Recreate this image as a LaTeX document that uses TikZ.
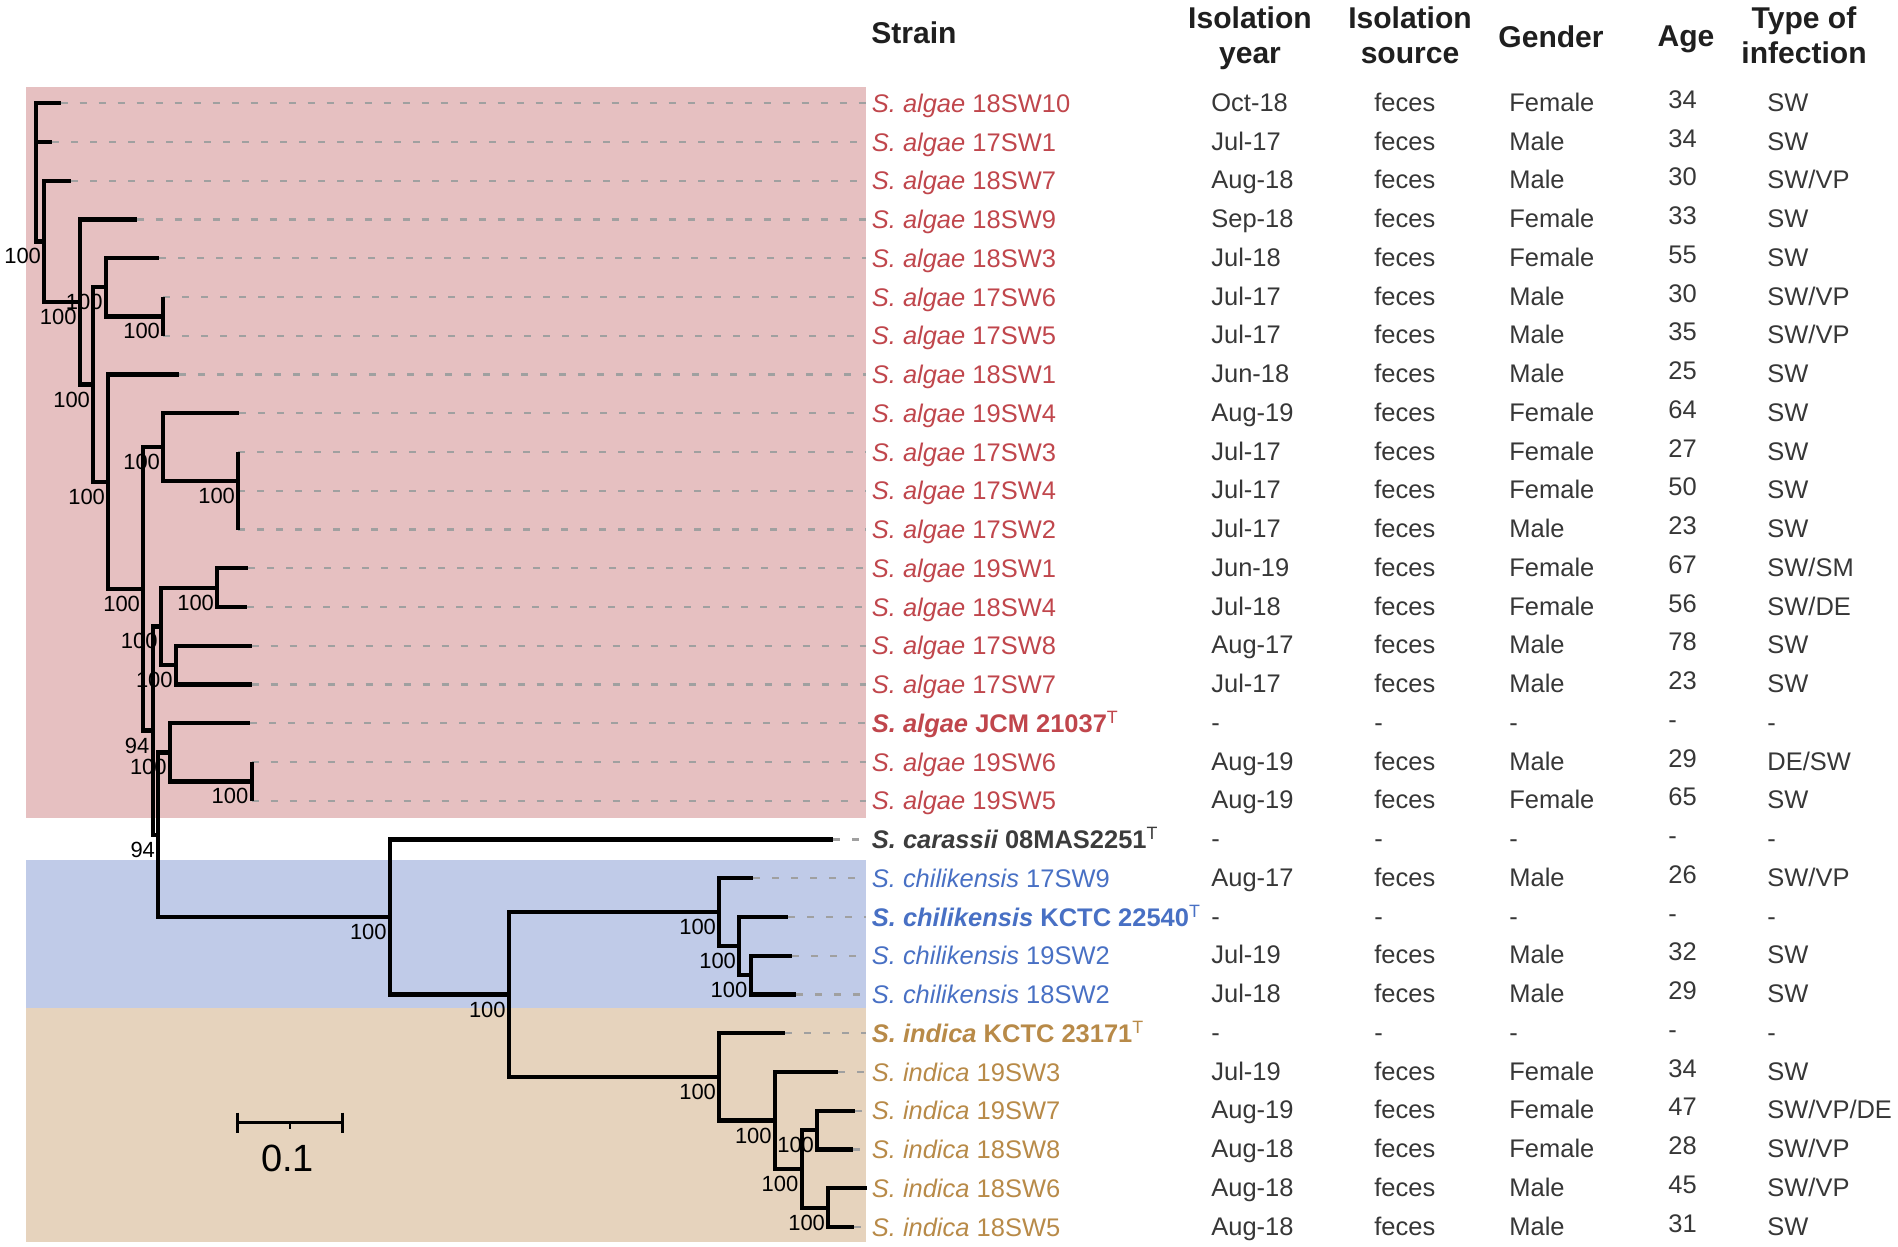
\documentclass[tikz,border=0pt]{standalone}
\usepackage{fontspec}
\setmainfont{Liberation Sans}
\definecolor{algaebg}{RGB}{230,192,193}
\definecolor{chilibg}{RGB}{192,203,232}
\definecolor{indicabg}{RGB}{230,211,189}
\definecolor{algaered}{RGB}{192,70,76}
\definecolor{chiliblue}{RGB}{72,112,196}
\definecolor{indicatan}{RGB}{184,138,72}
\definecolor{carassgray}{RGB}{60,60,60}
\definecolor{cellgray}{RGB}{55,55,55}
\definecolor{guidegray}{RGB}{160,160,160}
\begin{document}
\begin{tikzpicture}[x=0.2mm, y=-0.2mm,
  branch/.style={line width=0.85mm, line join=miter},
  guide/.style={draw=guidegray, line width=0.45mm, dash pattern=on 1.4mm off 2.4mm},
  boot/.style={font=\fontsize{12.5}{12.5}\selectfont, anchor=east, inner sep=0pt},
  strain/.style={font=\fontsize{14.5}{17}\selectfont, anchor=west, inner ysep=0pt, inner xsep=1.1mm, text height=3.65mm, text depth=0pt},
  salg/.style={strain, text=algaered},
  scar/.style={strain, text=carassgray},
  schi/.style={strain, text=chiliblue},
  sind/.style={strain, text=indicatan},
  cell/.style={font=\fontsize{14.5}{17}\selectfont, text=cellgray, anchor=west, inner sep=0pt, text height=3.65mm, text depth=0pt},
  agecell/.style={cell, yshift=0.6mm},
  head/.style={font=\fontsize{17.1}{20.2}\selectfont\bfseries, text=black!88, inner sep=0pt, align=center, anchor=north},
  scalebar/.style={line width=0.6mm},
]
\useasboundingbox (0,0) rectangle (1898,1246);
% clade backgrounds
\fill[algaebg] (26,86.7) rectangle (866,817.7);
\fill[chilibg] (26,859.5) rectangle (866,1007.7);
\fill[indicabg] (26,1007.7) rectangle (866,1242);
% tree nodes
\coordinate (nd0) at (35.7,172);
\coordinate (leaf0) at (60.7,103.3);
\coordinate (leaf1) at (52.3,142.05);
\coordinate (nd1) at (44.3,241.4);
\coordinate (leaf2) at (71,180.8);
\coordinate (nd2) at (80,302);
\coordinate (leaf3) at (136.7,219.55);
\coordinate (nd3) at (93.3,384.5);
\coordinate (nd4) at (106,287.35);
\coordinate (leaf4) at (159.3,258.3);
\coordinate (nd5) at (163.3,316.4);
\coordinate (leaf5) at (163.3,297.05);
\coordinate (leaf6) at (163.3,335.8);
\coordinate (nd6) at (108.3,481.7);
\coordinate (leaf7) at (179.3,374.55);
\coordinate (nd7) at (143.3,588.9);
\coordinate (nd8) at (163.3,447.2);
\coordinate (leaf8) at (239.3,413.3);
\coordinate (nd9) at (238.3,481.1);
\coordinate (leaf9) at (238.3,452.05);
\coordinate (nd10) at (238.3,510.2);
\coordinate (leaf10) at (238.3,490.8);
\coordinate (leaf11) at (238.3,529.55);
\coordinate (nd11) at (152.7,730.6);
\coordinate (nd12) at (161,626.4);
\coordinate (nd13) at (217.3,587.7);
\coordinate (leaf12) at (248.3,568.3);
\coordinate (leaf13) at (247.3,607.05);
\coordinate (nd14) at (176,665.2);
\coordinate (leaf14) at (251.7,645.8);
\coordinate (leaf15) at (251.7,684.55);
\coordinate (nd15) at (158.3,834.8);
\coordinate (nd16) at (170,752.4);
\coordinate (leaf16) at (250,723.3);
\coordinate (nd17) at (251.7,781.4);
\coordinate (leaf17) at (251.7,762.05);
\coordinate (leaf18) at (251.7,800.8);
\coordinate (nd18) at (390,917.1);
\coordinate (leaf19) at (833,839.55);
\coordinate (nd19) at (509,994.6);
\coordinate (nd20) at (719.3,912.2);
\coordinate (leaf20) at (753.3,878.3);
\coordinate (nd21) at (739.3,946.1);
\coordinate (leaf21) at (788.3,917.05);
\coordinate (nd22) at (750.7,975.2);
\coordinate (leaf22) at (792.3,955.8);
\coordinate (leaf23) at (796,994.55);
\coordinate (nd23) at (719.3,1076.9);
\coordinate (leaf24) at (785,1033.3);
\coordinate (nd24) at (775,1120.5);
\coordinate (leaf25) at (838.3,1072.05);
\coordinate (nd25) at (801.7,1168.9);
\coordinate (nd26) at (817.3,1130.2);
\coordinate (leaf26) at (855,1110.8);
\coordinate (leaf27) at (852.7,1149.55);
\coordinate (nd27) at (828.3,1207.7);
\coordinate (leaf28) at (867.3,1188.3);
\coordinate (leaf29) at (854,1227.05);
% strain labels
\node[salg] (lab0) at (866,103.3) {{\itshape S. algae} 18SW10};
\node[salg] (lab1) at (866,142.05) {{\itshape S. algae} 17SW1};
\node[salg] (lab2) at (866,180.8) {{\itshape S. algae} 18SW7};
\node[salg] (lab3) at (866,219.55) {{\itshape S. algae} 18SW9};
\node[salg] (lab4) at (866,258.3) {{\itshape S. algae} 18SW3};
\node[salg] (lab5) at (866,297.05) {{\itshape S. algae} 17SW6};
\node[salg] (lab6) at (866,335.8) {{\itshape S. algae} 17SW5};
\node[salg] (lab7) at (866,374.55) {{\itshape S. algae} 18SW1};
\node[salg] (lab8) at (866,413.3) {{\itshape S. algae} 19SW4};
\node[salg] (lab9) at (866,452.05) {{\itshape S. algae} 17SW3};
\node[salg] (lab10) at (866,490.8) {{\itshape S. algae} 17SW4};
\node[salg] (lab11) at (866,529.55) {{\itshape S. algae} 17SW2};
\node[salg] (lab12) at (866,568.3) {{\itshape S. algae} 19SW1};
\node[salg] (lab13) at (866,607.05) {{\itshape S. algae} 18SW4};
\node[salg] (lab14) at (866,645.8) {{\itshape S. algae} 17SW8};
\node[salg] (lab15) at (866,684.55) {{\itshape S. algae} 17SW7};
\node[salg] (lab16) at (866,723.3) {{\bfseries\itshape S. algae} {\bfseries JCM 21037}\textsuperscript{T}};
\node[salg] (lab17) at (866,762.05) {{\itshape S. algae} 19SW6};
\node[salg] (lab18) at (866,800.8) {{\itshape S. algae} 19SW5};
\node[scar] (lab19) at (866,839.55) {{\bfseries\itshape S. carassii} {\bfseries 08MAS2251}\textsuperscript{T}};
\node[schi] (lab20) at (866,878.3) {{\itshape S. chilikensis} 17SW9};
\node[schi] (lab21) at (866,917.05) {{\bfseries\itshape S. chilikensis} {\bfseries KCTC 22540}\textsuperscript{T}};
\node[schi] (lab22) at (866,955.8) {{\itshape S. chilikensis} 19SW2};
\node[schi] (lab23) at (866,994.55) {{\itshape S. chilikensis} 18SW2};
\node[sind] (lab24) at (866,1033.3) {{\bfseries\itshape S. indica} {\bfseries KCTC 23171}\textsuperscript{T}};
\node[sind] (lab25) at (866,1072.05) {{\itshape S. indica} 19SW3};
\node[sind] (lab26) at (866,1110.8) {{\itshape S. indica} 19SW7};
\node[sind] (lab27) at (866,1149.55) {{\itshape S. indica} 18SW8};
\node[sind] (lab28) at (866,1188.3) {{\itshape S. indica} 18SW6};
\node[sind] (lab29) at (866,1227.05) {{\itshape S. indica} 18SW5};
% tip guides
\draw[guide] (leaf0) -- (lab0);
\draw[guide] (leaf1) -- (lab1);
\draw[guide] (leaf2) -- (lab2);
\draw[guide] (leaf3) -- (lab3);
\draw[guide] (leaf4) -- (lab4);
\draw[guide] (leaf5) -- (lab5);
\draw[guide] (leaf6) -- (lab6);
\draw[guide] (leaf7) -- (lab7);
\draw[guide] (leaf8) -- (lab8);
\draw[guide] (leaf9) -- (lab9);
\draw[guide] (leaf10) -- (lab10);
\draw[guide] (leaf11) -- (lab11);
\draw[guide] (leaf12) -- (lab12);
\draw[guide] (leaf13) -- (lab13);
\draw[guide] (leaf14) -- (lab14);
\draw[guide] (leaf15) -- (lab15);
\draw[guide] (leaf16) -- (lab16);
\draw[guide] (leaf17) -- (lab17);
\draw[guide] (leaf18) -- (lab18);
\draw[guide] (leaf19) -- (lab19);
\draw[guide] (leaf20) -- (lab20);
\draw[guide] (leaf21) -- (lab21);
\draw[guide] (leaf22) -- (lab22);
\draw[guide] (leaf23) -- (lab23);
\draw[guide] (leaf24) -- (lab24);
\draw[guide] (leaf25) -- (lab25);
\draw[guide] (leaf26) -- (lab26);
\draw[guide] (leaf27) -- (lab27);
\draw[guide] (leaf29) -- (lab29);
% branches
\draw[branch] (nd0) |- (leaf0);
\draw[branch] (nd0) |- (leaf1);
\draw[branch] (nd0) |- (nd1);
\draw[branch] (nd1) |- (leaf2);
\draw[branch] (nd1) |- (nd2);
\draw[branch] (nd2) |- (leaf3);
\draw[branch] (nd2) |- (nd3);
\draw[branch] (nd3) |- (nd4);
\draw[branch] (nd3) |- (nd6);
\draw[branch] (nd4) |- (leaf4);
\draw[branch] (nd4) |- (nd5);
\draw[branch] (nd5) |- (leaf5);
\draw[branch] (nd5) |- (leaf6);
\draw[branch] (nd6) |- (leaf7);
\draw[branch] (nd6) |- (nd7);
\draw[branch] (nd7) |- (nd8);
\draw[branch] (nd7) |- (nd11);
\draw[branch] (nd8) |- (leaf8);
\draw[branch] (nd8) |- (nd9);
\draw[branch] (nd9) |- (leaf9);
\draw[branch] (nd9) |- (nd10);
\draw[branch] (nd10) |- (leaf10);
\draw[branch] (nd10) |- (leaf11);
\draw[branch] (nd11) |- (nd12);
\draw[branch] (nd11) |- (nd15);
\draw[branch] (nd12) |- (nd13);
\draw[branch] (nd12) |- (nd14);
\draw[branch] (nd13) |- (leaf12);
\draw[branch] (nd13) |- (leaf13);
\draw[branch] (nd14) |- (leaf14);
\draw[branch] (nd14) |- (leaf15);
\draw[branch] (nd15) |- (nd16);
\draw[branch] (nd15) |- (nd18);
\draw[branch] (nd16) |- (leaf16);
\draw[branch] (nd16) |- (nd17);
\draw[branch] (nd17) |- (leaf17);
\draw[branch] (nd17) |- (leaf18);
\draw[branch] (nd18) |- (leaf19);
\draw[branch] (nd18) |- (nd19);
\draw[branch] (nd19) |- (nd20);
\draw[branch] (nd19) |- (nd23);
\draw[branch] (nd20) |- (leaf20);
\draw[branch] (nd20) |- (nd21);
\draw[branch] (nd21) |- (leaf21);
\draw[branch] (nd21) |- (nd22);
\draw[branch] (nd22) |- (leaf22);
\draw[branch] (nd22) |- (leaf23);
\draw[branch] (nd23) |- (leaf24);
\draw[branch] (nd23) |- (nd24);
\draw[branch] (nd24) |- (leaf25);
\draw[branch] (nd24) |- (nd25);
\draw[branch] (nd25) |- (nd26);
\draw[branch] (nd25) |- (nd27);
\draw[branch] (nd26) |- (leaf26);
\draw[branch] (nd26) |- (leaf27);
\draw[branch] (nd27) |- (leaf28);
\draw[branch] (nd27) |- (leaf29);
% bootstrap values
\node[boot] (bs1) at ([shift={(-3,15)}]nd1) {100};
\node[boot] (bs2) at ([shift={(-3,15)}]nd2) {100};
\node[boot] (bs3) at ([shift={(-3,15)}]nd3) {100};
\node[boot] (bs4) at ([shift={(-3,15)}]nd4) {100};
\node[boot] (bs5) at ([shift={(-3,15)}]nd5) {100};
\node[boot] (bs6) at ([shift={(-3,15)}]nd6) {100};
\node[boot] (bs7) at ([shift={(-3,15)}]nd7) {100};
\node[boot] (bs8) at ([shift={(-3,15)}]nd8) {100};
\node[boot] (bs9) at ([shift={(-3,15)}]nd9) {100};
\node[boot] (bs11) at ([shift={(-3,15)}]nd11) {94};
\node[boot] (bs12) at ([shift={(-3,15)}]nd12) {100};
\node[boot] (bs13) at ([shift={(-3,15)}]nd13) {100};
\node[boot] (bs14) at ([shift={(-3,15)}]nd14) {100};
\node[boot] (bs15) at ([shift={(-3,15)}]nd15) {94};
\node[boot] (bs16) at ([shift={(-3,15)}]nd16) {100};
\node[boot] (bs17) at ([shift={(-3,15)}]nd17) {100};
\node[boot] (bs18) at ([shift={(-3,15)}]nd18) {100};
\node[boot] (bs19) at ([shift={(-3,15)}]nd19) {100};
\node[boot] (bs20) at ([shift={(-3,15)}]nd20) {100};
\node[boot] (bs21) at ([shift={(-3,15)}]nd21) {100};
\node[boot] (bs22) at ([shift={(-3,15)}]nd22) {100};
\node[boot] (bs23) at ([shift={(-3,15)}]nd23) {100};
\node[boot] (bs24) at ([shift={(-3,15)}]nd24) {100};
\node[boot] (bs25) at ([shift={(-3,15)}]nd25) {100};
\node[boot] (bs26) at ([shift={(-3,15)}]nd26) {100};
\node[boot] (bs27) at ([shift={(-3,15)}]nd27) {100};
% header
\node[head, anchor=north west] (hstrain) at (871,21) {Strain};
\node[head] (hyear) at (1250,6) {Isolation\\year};
\node[head] (hsource) at (1410,6) {Isolation\\source};
\node[head] (hgender) at (1551,25) {Gender};
\node[head] (hage) at (1686,25) {Age};
\node[head] (htype) at (1804,6) {Type of\\infection};
% table
\node[cell] (yr0) at (1211,102.3) {Oct-18}; \node[cell] (src0) at (1374,102.3) {feces}; \node[cell] (gen0) at (1509,102.3) {Female}; \node[agecell] (age0) at (1668,102.3) {34}; \node[cell] (inf0) at (1767,102.3) {SW};
\node[cell] (yr1) at (1211,141.05) {Jul-17}; \node[cell] (src1) at (1374,141.05) {feces}; \node[cell] (gen1) at (1509,141.05) {Male}; \node[agecell] (age1) at (1668,141.05) {34}; \node[cell] (inf1) at (1767,141.05) {SW};
\node[cell] (yr2) at (1211,179.8) {Aug-18}; \node[cell] (src2) at (1374,179.8) {feces}; \node[cell] (gen2) at (1509,179.8) {Male}; \node[agecell] (age2) at (1668,179.8) {30}; \node[cell] (inf2) at (1767,179.8) {SW/VP};
\node[cell] (yr3) at (1211,218.55) {Sep-18}; \node[cell] (src3) at (1374,218.55) {feces}; \node[cell] (gen3) at (1509,218.55) {Female}; \node[agecell] (age3) at (1668,218.55) {33}; \node[cell] (inf3) at (1767,218.55) {SW};
\node[cell] (yr4) at (1211,257.3) {Jul-18}; \node[cell] (src4) at (1374,257.3) {feces}; \node[cell] (gen4) at (1509,257.3) {Female}; \node[agecell] (age4) at (1668,257.3) {55}; \node[cell] (inf4) at (1767,257.3) {SW};
\node[cell] (yr5) at (1211,296.05) {Jul-17}; \node[cell] (src5) at (1374,296.05) {feces}; \node[cell] (gen5) at (1509,296.05) {Male}; \node[agecell] (age5) at (1668,296.05) {30}; \node[cell] (inf5) at (1767,296.05) {SW/VP};
\node[cell] (yr6) at (1211,334.8) {Jul-17}; \node[cell] (src6) at (1374,334.8) {feces}; \node[cell] (gen6) at (1509,334.8) {Male}; \node[agecell] (age6) at (1668,334.8) {35}; \node[cell] (inf6) at (1767,334.8) {SW/VP};
\node[cell] (yr7) at (1211,373.55) {Jun-18}; \node[cell] (src7) at (1374,373.55) {feces}; \node[cell] (gen7) at (1509,373.55) {Male}; \node[agecell] (age7) at (1668,373.55) {25}; \node[cell] (inf7) at (1767,373.55) {SW};
\node[cell] (yr8) at (1211,412.3) {Aug-19}; \node[cell] (src8) at (1374,412.3) {feces}; \node[cell] (gen8) at (1509,412.3) {Female}; \node[agecell] (age8) at (1668,412.3) {64}; \node[cell] (inf8) at (1767,412.3) {SW};
\node[cell] (yr9) at (1211,451.05) {Jul-17}; \node[cell] (src9) at (1374,451.05) {feces}; \node[cell] (gen9) at (1509,451.05) {Female}; \node[agecell] (age9) at (1668,451.05) {27}; \node[cell] (inf9) at (1767,451.05) {SW};
\node[cell] (yr10) at (1211,489.8) {Jul-17}; \node[cell] (src10) at (1374,489.8) {feces}; \node[cell] (gen10) at (1509,489.8) {Female}; \node[agecell] (age10) at (1668,489.8) {50}; \node[cell] (inf10) at (1767,489.8) {SW};
\node[cell] (yr11) at (1211,528.55) {Jul-17}; \node[cell] (src11) at (1374,528.55) {feces}; \node[cell] (gen11) at (1509,528.55) {Male}; \node[agecell] (age11) at (1668,528.55) {23}; \node[cell] (inf11) at (1767,528.55) {SW};
\node[cell] (yr12) at (1211,567.3) {Jun-19}; \node[cell] (src12) at (1374,567.3) {feces}; \node[cell] (gen12) at (1509,567.3) {Female}; \node[agecell] (age12) at (1668,567.3) {67}; \node[cell] (inf12) at (1767,567.3) {SW/SM};
\node[cell] (yr13) at (1211,606.05) {Jul-18}; \node[cell] (src13) at (1374,606.05) {feces}; \node[cell] (gen13) at (1509,606.05) {Female}; \node[agecell] (age13) at (1668,606.05) {56}; \node[cell] (inf13) at (1767,606.05) {SW/DE};
\node[cell] (yr14) at (1211,644.8) {Aug-17}; \node[cell] (src14) at (1374,644.8) {feces}; \node[cell] (gen14) at (1509,644.8) {Male}; \node[agecell] (age14) at (1668,644.8) {78}; \node[cell] (inf14) at (1767,644.8) {SW};
\node[cell] (yr15) at (1211,683.55) {Jul-17}; \node[cell] (src15) at (1374,683.55) {feces}; \node[cell] (gen15) at (1509,683.55) {Male}; \node[agecell] (age15) at (1668,683.55) {23}; \node[cell] (inf15) at (1767,683.55) {SW};
\node[cell] (yr16) at (1211,722.3) {-}; \node[cell] (src16) at (1374,722.3) {-}; \node[cell] (gen16) at (1509,722.3) {-}; \node[agecell] (age16) at (1668,722.3) {-}; \node[cell] (inf16) at (1767,722.3) {-};
\node[cell] (yr17) at (1211,761.05) {Aug-19}; \node[cell] (src17) at (1374,761.05) {feces}; \node[cell] (gen17) at (1509,761.05) {Male}; \node[agecell] (age17) at (1668,761.05) {29}; \node[cell] (inf17) at (1767,761.05) {DE/SW};
\node[cell] (yr18) at (1211,799.8) {Aug-19}; \node[cell] (src18) at (1374,799.8) {feces}; \node[cell] (gen18) at (1509,799.8) {Female}; \node[agecell] (age18) at (1668,799.8) {65}; \node[cell] (inf18) at (1767,799.8) {SW};
\node[cell] (yr19) at (1211,838.55) {-}; \node[cell] (src19) at (1374,838.55) {-}; \node[cell] (gen19) at (1509,838.55) {-}; \node[agecell] (age19) at (1668,838.55) {-}; \node[cell] (inf19) at (1767,838.55) {-};
\node[cell] (yr20) at (1211,877.3) {Aug-17}; \node[cell] (src20) at (1374,877.3) {feces}; \node[cell] (gen20) at (1509,877.3) {Male}; \node[agecell] (age20) at (1668,877.3) {26}; \node[cell] (inf20) at (1767,877.3) {SW/VP};
\node[cell] (yr21) at (1211,916.05) {-}; \node[cell] (src21) at (1374,916.05) {-}; \node[cell] (gen21) at (1509,916.05) {-}; \node[agecell] (age21) at (1668,916.05) {-}; \node[cell] (inf21) at (1767,916.05) {-};
\node[cell] (yr22) at (1211,954.8) {Jul-19}; \node[cell] (src22) at (1374,954.8) {feces}; \node[cell] (gen22) at (1509,954.8) {Male}; \node[agecell] (age22) at (1668,954.8) {32}; \node[cell] (inf22) at (1767,954.8) {SW};
\node[cell] (yr23) at (1211,993.55) {Jul-18}; \node[cell] (src23) at (1374,993.55) {feces}; \node[cell] (gen23) at (1509,993.55) {Male}; \node[agecell] (age23) at (1668,993.55) {29}; \node[cell] (inf23) at (1767,993.55) {SW};
\node[cell] (yr24) at (1211,1032.3) {-}; \node[cell] (src24) at (1374,1032.3) {-}; \node[cell] (gen24) at (1509,1032.3) {-}; \node[agecell] (age24) at (1668,1032.3) {-}; \node[cell] (inf24) at (1767,1032.3) {-};
\node[cell] (yr25) at (1211,1071.05) {Jul-19}; \node[cell] (src25) at (1374,1071.05) {feces}; \node[cell] (gen25) at (1509,1071.05) {Female}; \node[agecell] (age25) at (1668,1071.05) {34}; \node[cell] (inf25) at (1767,1071.05) {SW};
\node[cell] (yr26) at (1211,1109.8) {Aug-19}; \node[cell] (src26) at (1374,1109.8) {feces}; \node[cell] (gen26) at (1509,1109.8) {Female}; \node[agecell] (age26) at (1668,1109.8) {47}; \node[cell] (inf26) at (1767,1109.8) {SW/VP/DE};
\node[cell] (yr27) at (1211,1148.55) {Aug-18}; \node[cell] (src27) at (1374,1148.55) {feces}; \node[cell] (gen27) at (1509,1148.55) {Female}; \node[agecell] (age27) at (1668,1148.55) {28}; \node[cell] (inf27) at (1767,1148.55) {SW/VP};
\node[cell] (yr28) at (1211,1187.3) {Aug-18}; \node[cell] (src28) at (1374,1187.3) {feces}; \node[cell] (gen28) at (1509,1187.3) {Male}; \node[agecell] (age28) at (1668,1187.3) {45}; \node[cell] (inf28) at (1767,1187.3) {SW/VP};
\node[cell] (yr29) at (1211,1226.05) {Aug-18}; \node[cell] (src29) at (1374,1226.05) {feces}; \node[cell] (gen29) at (1509,1226.05) {Male}; \node[agecell] (age29) at (1668,1226.05) {31}; \node[cell] (inf29) at (1767,1226.05) {SW};
% scale bar
\coordinate (sbL) at (237.3,1122.7);
\coordinate (sbM) at (290,1122.7);
\coordinate (sbR) at (342.7,1122.7);
\draw[scalebar] (sbL) -- (sbR);
\draw[scalebar] ([yshift=2mm]sbL) -- ([yshift=-2mm]sbL);
\draw[scalebar] ([yshift=2mm]sbR) -- ([yshift=-2mm]sbR);
\draw[line width=0.4mm] (sbM) -- ([yshift=-1.3mm]sbM);
\node[font=\fontsize{21.6}{21.6}\selectfont, inner sep=0pt] (sbtext) at (287.5,1158) {0.1};
\end{tikzpicture}
\end{document}
